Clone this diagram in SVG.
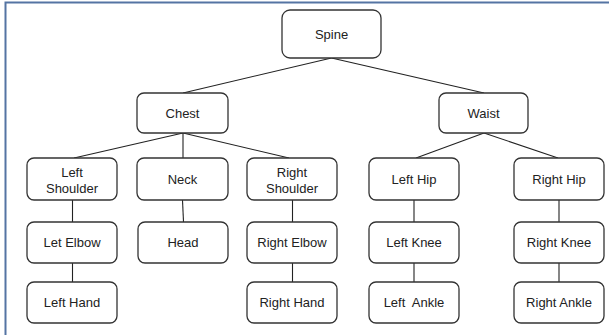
<svg xmlns="http://www.w3.org/2000/svg" width="609" height="335" viewBox="0 0 609 335">
<style>
.n rect{fill:#fff;stroke:#333;stroke-width:1.3}
.n text{font-family:"Liberation Sans",Arial,sans-serif;font-size:13px;fill:#222;text-anchor:middle}
.c line{stroke:#222;stroke-width:1.1}
</style>
<rect x="0" y="0" width="609" height="335" fill="#fff"/>
<path d="M5.5 335 V2.5 H609" fill="none" stroke="#5574a3" stroke-width="2"/>
<g class="c">
<line x1="331.5" y1="58" x2="183" y2="93"/>
<line x1="331.5" y1="58" x2="484" y2="93"/>
<line x1="183" y1="133" x2="74" y2="158"/>
<line x1="183" y1="133" x2="183" y2="158"/>
<line x1="183" y1="133" x2="289" y2="158"/>
<line x1="484" y1="133" x2="416" y2="158"/>
<line x1="484" y1="133" x2="558" y2="158"/>
<line x1="72.5" y1="200" x2="72.5" y2="222"/>
<line x1="72.5" y1="263" x2="72.5" y2="282"/>
<line x1="182.5" y1="200" x2="183.5" y2="222"/>
<line x1="292.5" y1="200" x2="292.5" y2="222"/>
<line x1="292.5" y1="263" x2="292.5" y2="282"/>
<line x1="414" y1="200" x2="414" y2="222"/>
<line x1="414" y1="263" x2="414" y2="282"/>
<line x1="559" y1="200" x2="559" y2="222"/>
<line x1="559" y1="263" x2="559" y2="282"/>
</g>
<g id="spine" class="n"><rect x="282" y="10" width="99" height="48" rx="8"/><text x="331.5" y="39">Spine</text></g>
<g id="chest" class="n"><rect x="137" y="93" width="91" height="40" rx="7"/><text x="182.5" y="117.5">Chest</text></g>
<g id="waist" class="n"><rect x="439" y="93" width="89" height="40" rx="7"/><text x="483.5" y="117.5">Waist</text></g>
<g id="leftShoulder" class="n"><rect x="27" y="158" width="90" height="42" rx="7"/><text x="72" y="176.5">Left</text><text x="72" y="192.5">Shoulder</text></g>
<g id="neck" class="n"><rect x="137" y="158" width="91" height="42" rx="7"/><text x="182.5" y="183.5">Neck</text></g>
<g id="rightShoulder" class="n"><rect x="247" y="158" width="90" height="42" rx="7"/><text x="292" y="176.5">Right</text><text x="292" y="192.5">Shoulder</text></g>
<g id="leftHip" class="n"><rect x="369" y="158" width="90" height="42" rx="7"/><text x="414" y="183.5">Left Hip</text></g>
<g id="rightHip" class="n"><rect x="514" y="158" width="90" height="42" rx="7"/><text x="559" y="183.5">Right Hip</text></g>
<g id="leftElbow" class="n"><rect x="27" y="222" width="90" height="41" rx="7"/><text x="72" y="247">Let Elbow</text></g>
<g id="head" class="n"><rect x="138" y="222" width="90" height="41" rx="7"/><text x="183" y="247">Head</text></g>
<g id="rightElbow" class="n"><rect x="247" y="222" width="90" height="41" rx="7"/><text x="292" y="247">Right Elbow</text></g>
<g id="leftKnee" class="n"><rect x="369" y="222" width="90" height="41" rx="7"/><text x="414" y="247">Left Knee</text></g>
<g id="rightKnee" class="n"><rect x="514" y="222" width="90" height="41" rx="7"/><text x="559" y="247">Right Knee</text></g>
<g id="leftHand" class="n"><rect x="27" y="282" width="90" height="41" rx="7"/><text x="72" y="307">Left Hand</text></g>
<g id="rightHand" class="n"><rect x="247" y="282" width="90" height="41" rx="7"/><text x="292" y="307">Right Hand</text></g>
<g id="leftAnkle" class="n"><rect x="369" y="282" width="90" height="41" rx="7"/><text x="414" y="307" xml:space="preserve">Left  Ankle</text></g>
<g id="rightAnkle" class="n"><rect x="514" y="282" width="90" height="41" rx="7"/><text x="559" y="307">Right Ankle</text></g>
</svg>
